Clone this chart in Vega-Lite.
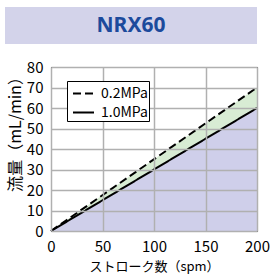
{
  "$schema": "https://vega.github.io/schema/vega-lite/v6.json",
  "padding": {"left": 5, "top": 7, "right": 5, "bottom": 5},
  "config": {
    "font": "Noto Sans CJK JP",
    "axis": {"labelColor": "#000", "titleColor": "#000"}
  },
  "datasets": {
    "lines": [
      {"x": 0, "y": 0, "s": "0.2MPa"},
      {"x": 200, "y": 70, "s": "0.2MPa"},
      {"x": 0, "y": 0, "s": "1.0MPa"},
      {"x": 200, "y": 60, "s": "1.0MPa"}
    ],
    "band": [
      {"x": 0, "y": 0, "hi": 0},
      {"x": 200, "y": 60, "hi": 70}
    ],
    "blank": [{"t": ""}]
  },
  "spacing": 15,
  "resolve": {"legend": {"strokeDash": "independent"}},
  "vconcat": [
    {
      "width": 252,
      "height": 37,
      "view": {"fill": "#d3d3ea", "stroke": null},
      "data": {"values": [{"label": "NRX60"}]},
      "mark": {"type": "text", "font": "Noto Sans", "fontWeight": "bold", "fontSize": 21, "color": "#1c4a9c", "baseline": "middle", "align": "center"},
      "encoding": {"text": {"field": "label"}}
    },
    {
      "spacing": 0,
      "resolve": {"legend": {"strokeDash": "independent"}},
      "hconcat": [
        {
          "width": 1,
          "height": 1,
          "view": {"stroke": null},
          "data": {"name": "blank"},
          "mark": {"type": "text"},
          "encoding": {"text": {"field": "t"}}
        },
        {
          "width": 206,
          "height": 164,
          "view": {"stroke": "#000", "strokeWidth": 1},
          "encoding": {
            "x": {
              "field": "x", "type": "quantitative",
              "scale": {"domain": [0, 200], "nice": false},
              "axis": {
                "values": [0, 50, 100, 150, 200], "title": "ストローク数（spm）",
                "titleFontSize": 13, "titleFontWeight": "normal", "titlePadding": 6,
                "labelFontSize": 15, "labelPadding": 8, "ticks": false, "domain": false,
                "gridColor": "#b0b0b0", "gridWidth": 1.5, "zindex": 1, "labelFlush": false, "labelOverlap": false
              }
            },
            "y": {
              "field": "y", "type": "quantitative",
              "scale": {"domain": [0, 80], "nice": false},
              "axis": {
                "values": [0, 10, 20, 30, 40, 50, 60, 70, 80], "title": "流量（mL/min）",
                "titleFontSize": 16, "titleFontWeight": "normal", "titlePadding": 3, "titleY": 63,
                "labelFontSize": 15, "labelPadding": 8, "ticks": false, "domain": false,
                "gridColor": "#b0b0b0", "gridWidth": 1.5, "zindex": 1, "labelFlush": false, "labelOverlap": false
              }
            }
          },
          "layer": [
            {
              "data": {"name": "band"},
              "mark": {"type": "area", "color": "#cfcfea", "opacity": 1}
            },
            {
              "data": {"name": "band"},
              "mark": {"type": "area", "color": "#d8ecd4", "opacity": 1},
              "encoding": {"y2": {"field": "hi"}}
            },
            {
              "data": {"name": "lines"},
              "mark": {"type": "line", "color": "#000", "strokeWidth": 2},
              "encoding": {
                "strokeDash": {
                  "field": "s", "type": "nominal",
                  "scale": {"domain": ["0.2MPa", "1.0MPa"], "range": [[8, 4], [1, 0]]},
                  "legend": {
                    "title": null, "orient": "none", "legendX": 16, "legendY": 14,
                    "fillColor": "#fff", "strokeColor": "#000", "padding": 1,
                    "labelFontSize": 14, "labelColor": "#000", "symbolType": "stroke",
                    "symbolSize": 441, "symbolStrokeWidth": 2, "symbolStrokeColor": "#000",
                    "symbolOffset": 4, "labelOffset": 6,
                    "rowPadding": -1, "zindex": 2
                  }
                }
              }
            }
          ]
        }
      ]
    }
  ]
}
